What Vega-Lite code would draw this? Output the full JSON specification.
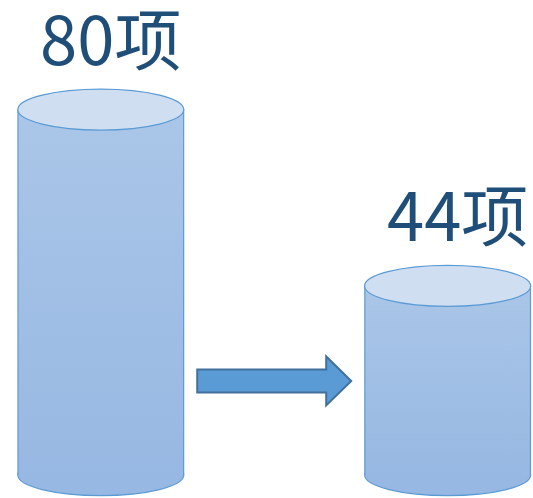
{
  "$schema": "https://vega.github.io/schema/vega-lite/v6.json",
  "width": 533,
  "height": 498,
  "autosize": {"type": "fit", "contains": "padding"},
  "padding": 0,
  "background": "white",
  "config": {"view": {"stroke": null}},
  "data": {"values": [
    {"stage": "before", "kind": "cylinder", "h": 80, "label": "80项"},
    {"stage": "arrow", "kind": "arrow", "h": 20.6, "label": ""},
    {"stage": "after", "kind": "cylinder", "h": 41.4, "label": "44项"}
  ]},
  "encoding": {
    "x": {"field": "stage", "type": "nominal", "sort": ["before", "arrow", "after"], "axis": null,
          "scale": {"paddingInner": 0.0446, "paddingOuter": 0.0561, "align": 0.923}}
  },
  "layer": [
    {
      "transform": [{"filter": "datum.kind === 'cylinder'"}],
      "mark": {"type": "point", "shape": "M-1,0A1,0.247,0,1,0,1,0A1,0.247,0,1,0,-1,0Z", "size": 27556, "filled": true, "opacity": 1, "fill": "#97b8e2", "stroke": "#5b9bd5", "strokeWidth": 1.2},
      "encoding": {"y": {"datum": 0, "type": "quantitative", "axis": null, "scale": {"domain": [-4.578, 103.98], "nice": false, "zero": false}}}
    },
    {
      "transform": [{"filter": "datum.kind === 'cylinder'"}],
      "mark": {"type": "bar", "color": {"gradient": "linear", "x1": 0, "y1": 0, "x2": 0, "y2": 1, "stops": [{"offset": 0, "color": "#aac6e8"}, {"offset": 1, "color": "#97b8e2"}]}},
      "encoding": {
        "y": {"field": "h", "type": "quantitative", "axis": null, "scale": {"domain": [-4.578, 103.98], "nice": false, "zero": false}},
        "y2": {"datum": 0}
      }
    },
    {
      "transform": [{"filter": "datum.kind === 'cylinder'"}],
      "mark": {"type": "rule", "color": "#5b9bd5", "strokeWidth": 1.2},
      "encoding": {
        "x": {"field": "stage", "type": "nominal", "sort": ["before", "arrow", "after"], "bandPosition": 0},
        "y": {"field": "h", "type": "quantitative"},
        "y2": {"datum": 0}
      }
    },
    {
      "transform": [{"filter": "datum.kind === 'cylinder'"}],
      "mark": {"type": "rule", "color": "#5b9bd5", "strokeWidth": 1.2},
      "encoding": {
        "x": {"field": "stage", "type": "nominal", "sort": ["before", "arrow", "after"], "bandPosition": 1},
        "y": {"field": "h", "type": "quantitative"},
        "y2": {"datum": 0}
      }
    },
    {
      "transform": [{"filter": "datum.kind === 'cylinder'"}],
      "mark": {"type": "point", "shape": "M-1,0A1,0.247,0,1,0,1,0A1,0.247,0,1,0,-1,0Z", "size": 27556, "filled": true, "opacity": 1, "fill": "#cfdff1", "stroke": "#5b9bd5", "strokeWidth": 1.2},
      "encoding": {"y": {"field": "h", "type": "quantitative"}}
    },
    {
      "transform": [{"filter": "datum.kind === 'arrow'"}],
      "mark": {"type": "point", "shape": "M-1,-0.149L0.675,-0.149L0.675,-0.318L1,0L0.675,0.318L0.675,0.149L-1,0.149Z", "size": 23716, "filled": true, "opacity": 1, "fill": "#5b9bd5", "stroke": "#41719c", "strokeWidth": 2},
      "encoding": {"y": {"field": "h", "type": "quantitative"}}
    },
    {
      "transform": [{"filter": "datum.kind === 'cylinder'"}],
      "mark": {"type": "text", "font": "Noto Sans CJK SC", "fontSize": 67, "color": "#1f4e79", "dy": -45, "dx": 10, "baseline": "alphabetic", "align": "center"},
      "encoding": {
        "y": {"field": "h", "type": "quantitative"},
        "text": {"field": "label"}
      }
    }
  ]
}
